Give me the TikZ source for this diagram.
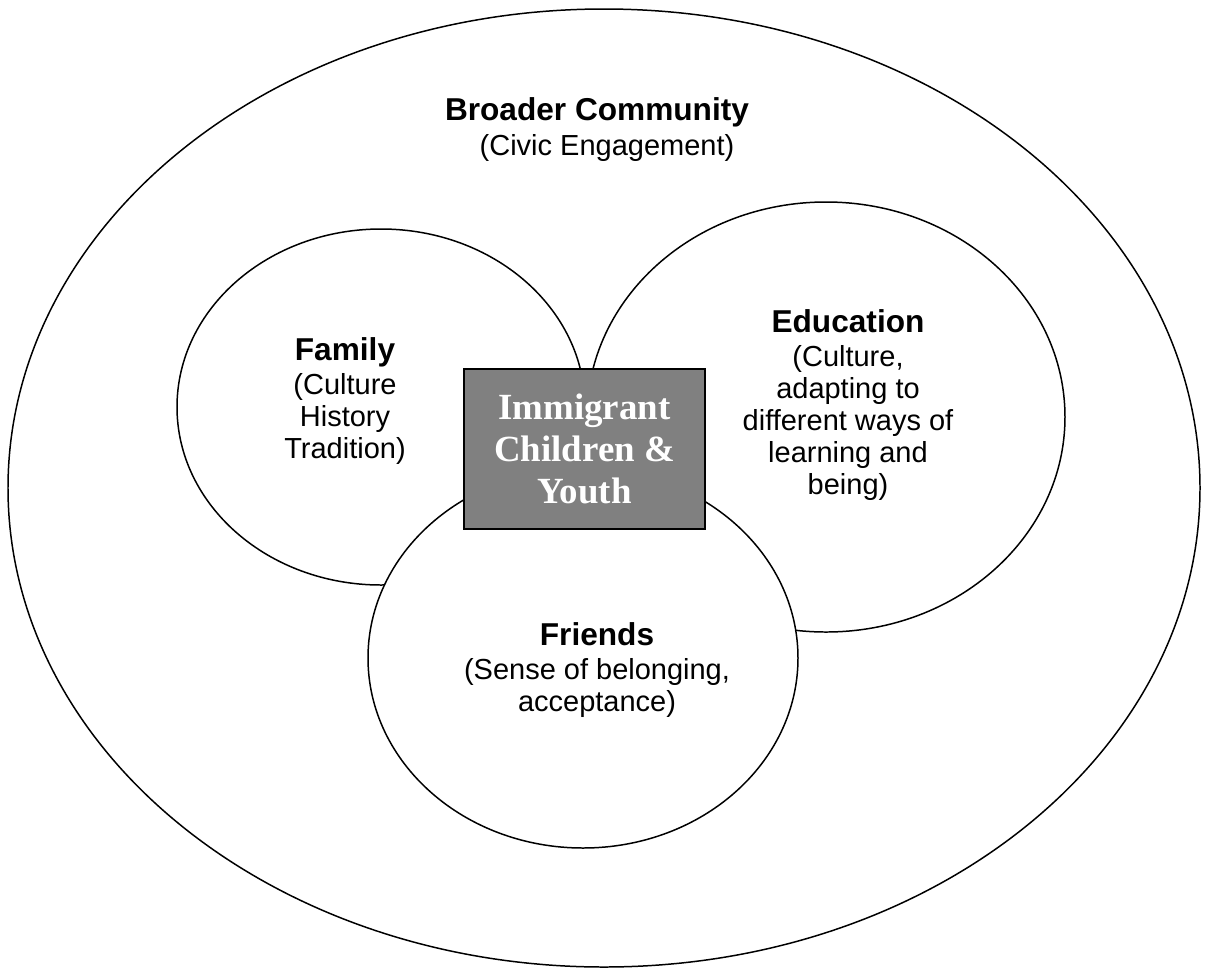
\documentclass[tikz,border=0pt]{standalone}
\usepackage{fontspec}
\setmainfont{Liberation Sans}
\newfontfamily\boxfont{Liberation Serif}

\begin{document}
\begin{tikzpicture}[x=0.02cm, y=-0.02cm,
    ring/.style={draw, line width=0.85pt, fill=white},
    txt/.style={align=center, inner sep=0pt, font=\fontsize{16.5}{18.3}\selectfont},
    headtxt/.style={inner sep=0pt, font=\fontsize{18}{20}\selectfont\bfseries},
    centrebox/.style={draw, line width=0.7pt, fill=black!50, text=white,
      minimum width=4.82cm, minimum height=3.2cm, align=center,
      font=\boxfont\fontsize{21}{23.8}\selectfont\bfseries}]
    \useasboundingbox (0,0) rectangle (1211,968);

    \draw[ring] (604,488) ellipse [x radius=596, y radius=479];
    \draw[ring] (381,407) ellipse [x radius=204, y radius=178];
    \draw[ring] (826,417) ellipse [x radius=239, y radius=215];
    \draw[ring] (583,658) ellipse [x radius=215, y radius=190];

    \node[centrebox] (kids) at (584.5,449) {Immigrant\\Children \&\\Youth};

    \node[headtxt] (community) at (597,112) {Broader Community};
    \node[txt] (civic) at (607,148) {(Civic Engagement)};

    \node[txt] (family) at (345,401) {{\bfseries\fontsize{18}{20}\selectfont Family}\\[1pt](Culture\\History\\Tradition)};
    \node[txt] (education) at (848,405) {{\bfseries\fontsize{18}{20}\selectfont Education}\\[1pt](Culture,\\adapting to\\different ways of\\learning and\\being)};
    \node[txt] (friends) at (597,670) {{\bfseries\fontsize{18}{20}\selectfont Friends}\\[1pt](Sense of belonging,\\acceptance)};
\end{tikzpicture}
\end{document}
